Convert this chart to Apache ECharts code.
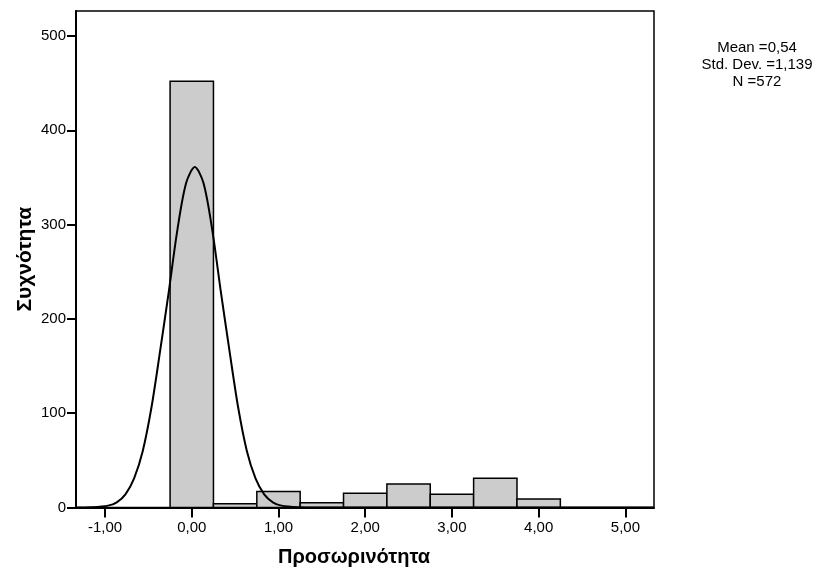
<!DOCTYPE html>
<html>
<head>
<meta charset="utf-8">
<script src="https://cdn.jsdelivr.net/npm/echarts@6/dist/echarts.min.js"></script>
<style>html,body{margin:0;padding:0;background:#fff;}#c{width:821px;height:576px;}</style>
</head>
<body>
<div id="c"></div>
<script>
// Histogram bins (start of each bin) and counts
var binWidth = 0.5;
var binStarts = [-0.25, 0.25, 0.75, 1.25, 1.75, 2.25, 2.75, 3.25, 3.75];
var counts = [452, 4, 17, 5, 15, 25, 14, 31, 9];

// Normal curve points
var curveX = [-1.335, -1.165, -0.965, -0.865, -0.765, -0.665, -0.565, -0.465, -0.365, -0.265, -0.165, -0.065, 0.035, 0.135, 0.235, 0.335, 0.435, 0.535, 0.635, 0.735, 0.835, 0.935, 1.035, 1.235, 1.435, 2.0, 3.0, 4.0, 5.0, 5.33];
var curveY = [0, 0.3, 2, 5.5, 14, 31, 60, 106, 166, 229, 295, 344, 361, 344, 295, 229, 166, 106, 60, 31, 14, 5.5, 2, 0.3, 0, 0, 0, 0, 0, 0];

var xTicks = [-1, 0, 1, 2, 3, 4, 5];
var yTicks = [0, 100, 200, 300, 400, 500];

var statsLines = ['Mean =0,54', 'Std. Dev. =1,139', 'N =572'];
var xTitle = 'Προσωρινότητα';
var yTitle = 'Συχνότητα';

var FONT = '"Liberation Sans", Arial, sans-serif';

var barData = binStarts.map(function (s, i) { return [s, s + binWidth, counts[i]]; });
var curveData = curveX.map(function (x, i) { return [x, curveY[i]]; });

var chart = echarts.init(document.getElementById('c'), null, { renderer: 'canvas' });
chart.setOption({
  animation: false,
  backgroundColor: '#fff',
  grid: {
    left: 76, right: 167, top: 11, bottom: 68.5,
    outerBoundsMode: 'none',
    containLabel: false,
    show: true, borderColor: '#000', borderWidth: 1.5, backgroundColor: 'transparent'
  },
  xAxis: {
    type: 'value',
    min: -1.335, max: 5.33,
    name: xTitle,
    nameLocation: 'middle',
    nameGap: 40,
    nameTextStyle: { fontFamily: FONT, fontSize: 20, fontWeight: 'bold', color: '#000', padding: [0, 22, 0, 0] },
    axisLine: { show: true, onZero: false, lineStyle: { color: '#000', width: 2 } },
    axisTick: { show: true, length: 10, inside: false, customValues: xTicks, lineStyle: { color: '#000', width: 2 } },
    axisLabel: {
      customValues: xTicks, margin: 13, fontFamily: FONT, fontSize: 15, color: '#000',
      formatter: function (v) { return v.toFixed(2).replace('.', ','); }
    },
    splitLine: { show: false }
  },
  yAxis: {
    type: 'value',
    min: 0, max: 526.5,
    name: yTitle,
    nameLocation: 'middle',
    nameGap: 40,
    nameRotate: 90,
    nameMoveOverlap: false,
    nameTextStyle: { fontFamily: FONT, fontSize: 21, fontWeight: 'bold', color: '#000' },
    axisLine: { show: true, onZero: false, lineStyle: { color: '#000', width: 2 } },
    axisTick: { show: true, length: 9, inside: false, customValues: yTicks, lineStyle: { color: '#000', width: 2 } },
    axisLabel: { customValues: yTicks, margin: 10, fontFamily: FONT, fontSize: 15, color: '#000' },
    splitLine: { show: false }
  },
  series: [
    {
      type: 'custom',
      data: barData,
      encode: { x: [0, 1], y: 2 },
      renderItem: function (params, api) {
        var p0 = api.coord([api.value(0), api.value(2)]);
        var p1 = api.coord([api.value(1), 0]);
        return {
          type: 'rect',
          shape: { x: p0[0], y: p0[1], width: p1[0] - p0[0], height: p1[1] - p0[1] },
          style: { fill: '#cccccc', stroke: '#000', lineWidth: 1.5 }
        };
      },
      z: 2
    },
    {
      type: 'line',
      data: curveData,
      smooth: 0.3,
      showSymbol: false,
      symbol: 'none',
      lineStyle: { color: '#000', width: 2 },
      z: 3
    }
  ],
  graphic: [
    {
      type: 'text',
      x: 757, y: 39.5,
      style: {
        text: statsLines.join('\n'),
        font: '15px ' + FONT,
        fill: '#000',
        align: 'center',
        verticalAlign: 'top',
        lineHeight: 16.8
      }
    }
  ]
});
</script>
</body>
</html>
